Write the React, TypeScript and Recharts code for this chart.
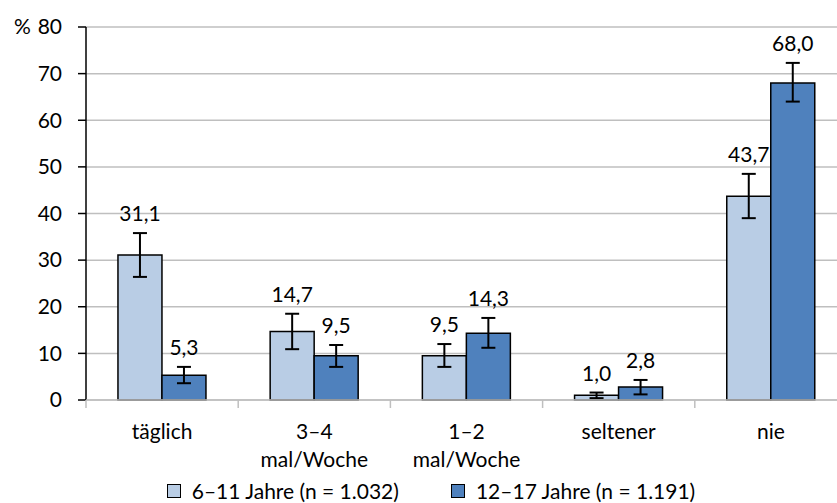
import React from "react";
import {
  BarChart,
  Bar,
  XAxis,
  YAxis,
  CartesianGrid,
  ErrorBar,
  LabelList,
  Legend,
} from "recharts";

// categories, split into the lines shown under the axis
const categoryLines = [
  ["täglich"],
  ["3–4", "mal/Woche"],
  ["1–2", "mal/Woche"],
  ["seltener"],
  ["nie"],
];

const youngValues = [31.1, 14.7, 9.5, 1.0, 43.7];
const oldValues = [5.3, 9.5, 14.3, 2.8, 68.0];

// [below, above] distances for the confidence intervals
const youngErrors = [
  [4.7, 4.7],
  [3.8, 3.8],
  [2.4, 2.5],
  [0.6, 0.6],
  [4.7, 4.8],
];
const oldErrors = [
  [1.7, 1.8],
  [2.4, 2.3],
  [3.1, 3.3],
  [1.6, 1.5],
  [4.0, 4.3],
];

const yTicks = [0, 10, 20, 30, 40, 50, 60, 70, 80];
const seriesNames = ["6–11 Jahre (n = 1.032)", "12–17 Jahre (n = 1.191)"];

const LIGHT = "#B9CDE5";
const DARK = "#4F81BD";
const GRID = "#BFBFBF";
const FONT = "Lato, sans-serif";
const FONT_SIZE = 21;

const data = categoryLines.map((lines, i) => ({
  name: lines.join(" "),
  young: youngValues[i],
  old: oldValues[i],
  youngErr: youngErrors[i],
  oldErr: oldErrors[i],
}));

const fmt = (v: number) => v.toFixed(1).replace(".", ",");

// label sits above the top of the error bar
const makeLabel = (errors: number[][]) => (props: any) => {
  const { x, y, width, height, value, index } = props;
  const pxPerUnit = value ? height / value : 0;
  const errTop = y - errors[index][1] * pxPerUnit;
  return (
    <text
      x={x + width / 2}
      y={errTop - 12}
      textAnchor="middle"
      fontFamily={FONT}
      fontSize={FONT_SIZE}
      fill="#000"
    >
      {fmt(value)}
    </text>
  );
};

const YTick = (props: any) => {
  const { x, y, payload } = props;
  return (
    <g>
      {payload.value === 80 && (
        <text x={14} y={y} dy="0.35em" fontFamily={FONT} fontSize={FONT_SIZE} fill="#000">
          %
        </text>
      )}
      <text
        x={x}
        y={y}
        dy="0.35em"
        textAnchor="end"
        fontFamily={FONT}
        fontSize={FONT_SIZE}
        fill="#000"
      >
        {payload.value}
      </text>
    </g>
  );
};

const XTick = (props: any) => {
  const { x, y, payload, index } = props;
  const half = payload.offset || 76;
  const lines = categoryLines[index] || [payload.value];
  return (
    <g>
      <line x1={x - half} y1={y} x2={x - half} y2={y + 8} stroke={GRID} strokeWidth={1.5} />
      {index === categoryLines.length - 1 && (
        <line x1={x + half} y1={y} x2={x + half} y2={y + 8} stroke={GRID} strokeWidth={1.5} />
      )}
      {lines.map((t, i) => (
        <text
          key={i}
          x={x}
          y={y + 39 + i * 28}
          textAnchor="middle"
          fontFamily={FONT}
          fontSize={FONT_SIZE}
          fill="#000"
        >
          {t}
        </text>
      ))}
    </g>
  );
};

const LegendBox = () => (
  <div
    style={{
      display: "flex",
      justifyContent: "center",
      gap: 52,
      fontFamily: FONT,
      fontSize: FONT_SIZE,
      lineHeight: "24px",
    }}
  >
    {[LIGHT, DARK].map((c, i) => (
      <div key={i} style={{ display: "flex", alignItems: "center", gap: 11 }}>
        <span
          style={{
            display: "inline-block",
            width: 12,
            height: 12,
            background: c,
            border: "1.5px solid #000",
          }}
        />
        <span>{seriesNames[i]}</span>
      </div>
    ))}
  </div>
);

export default function App() {
  return (
    <div
      style={{
        position: "absolute",
        left: 0,
        top: 0,
        width: 837,
        height: 503,
        overflow: "hidden",
        background: "#fff",
      }}
    >
      <BarChart
        width={862}
        height={503}
        data={data}
        margin={{ top: 27, right: 15, left: 0, bottom: 0 }}
        barCategoryGap="21%"
        barGap={0}
      >
        <CartesianGrid vertical={false} stroke={GRID} strokeWidth={1.5} />
        <YAxis
          width={86}
          domain={[0, 80]}
          ticks={yTicks}
          interval={0}
          axisLine={{ stroke: "#000", strokeWidth: 1.5 }}
          tickLine={{ stroke: "#000", strokeWidth: 1.5 }}
          tickSize={8}
          tickMargin={16}
          tick={<YTick />}
        />
        <XAxis
          dataKey="name"
          height={79}
          interval={0}
          axisLine={{ stroke: GRID, strokeWidth: 1.5 }}
          tickLine={false}
          tickSize={0}
          tickMargin={0}
          tick={<XTick />}
        />
        <Legend
          verticalAlign="bottom"
          content={<LegendBox />}
          wrapperStyle={{ left: 0, bottom: 0, width: 862, height: 24 }}
        />
        <Bar
          dataKey="young"
          fill={LIGHT}
          stroke="#000"
          strokeWidth={1.5}
          isAnimationActive={false}
        >
          <ErrorBar dataKey="youngErr" width={7} stroke="#000" strokeWidth={2} direction="y" />
          <LabelList dataKey="young" content={makeLabel(youngErrors)} />
        </Bar>
        <Bar
          dataKey="old"
          fill={DARK}
          stroke="#000"
          strokeWidth={1.5}
          isAnimationActive={false}
        >
          <ErrorBar dataKey="oldErr" width={7} stroke="#000" strokeWidth={2} direction="y" />
          <LabelList dataKey="old" content={makeLabel(oldErrors)} />
        </Bar>
      </BarChart>
    </div>
  );
}
